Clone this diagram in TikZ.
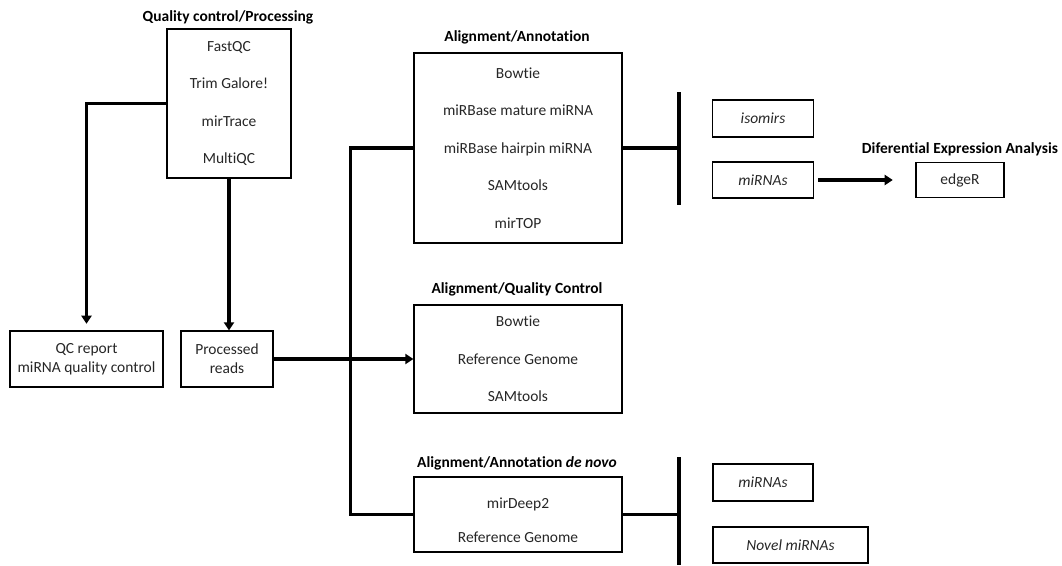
\documentclass[tikz,border=0pt]{standalone}
\usepackage{fontspec}
\setmainfont{Carlito}[Ligatures=NoCommon]
\usepackage{tikz}
\usetikzlibrary{arrows.meta}
\newcommand{\boxline}{0.9pt}
\newcommand{\linkline}{2.3pt}
\newcommand{\toolgap}{13.8pt}

\begin{document}
\begin{tikzpicture}[x=0.75pt,y=-0.75pt,
  every node/.style={font=\fontsize{11.6}{14.25}\selectfont, text=black!85},
  tool/.style={draw, line width=\boxline, align=center, inner sep=0pt},
  head/.style={font=\fontsize{11.6}{14.25}\selectfont\bfseries, text=black},
  link/.style={line width=\linkline},
  arrow/.style={link, -{Triangle[length=6pt,width=7.5pt]}}]
\useasboundingbox (0,0) rectangle (1062,565);
%quality control
\node[head] (qctitle) at (228,17) {Quality control/Processing};
\node[tool, minimum width=93pt, minimum height=111.75pt] (qc) at (229,103.5)
  {FastQC\\[\toolgap]Trim Galore!\\[\toolgap]mirTrace\\[\toolgap]MultiQC};
\node[tool, minimum width=114.75pt, minimum height=42pt] (qcrep) at (86.5,359)
  {QC report\\miRNA quality control};
\node[tool, minimum width=69pt, minimum height=42pt] (proc) at (227,359)
  {Processed\\reads};
%alignment
\node[head] (annottitle) at (517,37) {Alignment/Annotation};
\node[tool, minimum width=156pt, minimum height=142.5pt] (annot) at (518,148)
  {Bowtie\\[\toolgap]miRBase mature miRNA\\[\toolgap]miRBase hairpin miRNA\\[\toolgap]SAMtools\\[\toolgap]mirTOP};
\node[head] (aqctitle) at (517,289) {Alignment/Quality Control};
\node[tool, minimum width=156pt, minimum height=81pt] (aqc) at (518,359)
  {Bowtie\\[\toolgap]Reference Genome\\[\toolgap]SAMtools};
\node[head] (denovotitle) at (517,463) {Alignment/Annotation \textit{de novo}};
\node[tool, minimum width=156pt, minimum height=56.25pt] (denovo) at (518,514.5)
  {\rule{0pt}{17pt}mirDeep2\\[11pt]Reference Genome};
%results
\node[tool, minimum width=75.75pt, minimum height=27.75pt] (isomirs) at (763,118.5) {\textit{isomirs}};
\node[tool, minimum width=75.75pt, minimum height=27pt] (mirnas) at (763,180) {\textit{miRNAs}};
\node[head] (edgertitle) at (960,149) {Diferential Expression Analysis};
\node[tool, minimum width=66pt, minimum height=26.25pt] (edger) at (960,180) {edgeR};
\node[tool, minimum width=75pt, minimum height=27.75pt] (mirnasnovo) at (763,482.5) {\textit{miRNAs}};
\node[tool, minimum width=116.25pt, minimum height=27pt] (novel) at (790.5,545) {\textit{Novel miRNAs}};
%connectors
\coordinate (bar1) at (679,148);
\coordinate (bar1top) at (679,92);
\coordinate (bar1bot) at (679,205);
\coordinate (bar2) at (679,514.5);
\coordinate (bar2top) at (679,457);
\coordinate (bar2bot) at (679,565);
\draw[arrow, shorten >=5pt] (qc.west) -| (qcrep.north);
\draw[arrow] (qc.south) -- (qc.south |- proc.north);
\draw[arrow] (proc.east) -- (aqc.west);
\draw[link] (annot.west) -- ++(-63,0) |- (denovo.west);
\draw[link] (annot.east) -- (bar1);
\draw[link] (bar1top) -- (bar1bot);
\draw[link] (denovo.east) -- (bar2);
\draw[link] (bar2top) -- (bar2bot);
\draw[arrow, shorten <=3pt, shorten >=17pt] (mirnas.east) -- (edger.west);
\end{tikzpicture}
\end{document}
